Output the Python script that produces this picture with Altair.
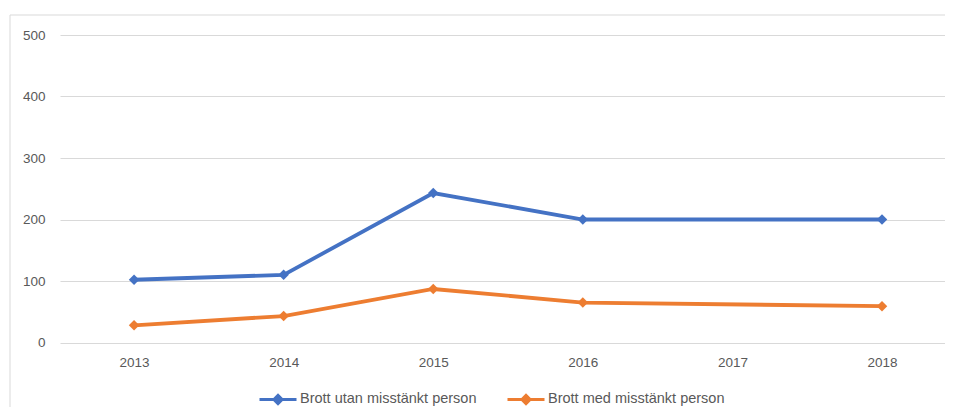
import altair as alt
import pandas as pd

years = [2013, 2014, 2015, 2016, 2017, 2018]
series_names = ["Brott utan misstänkt person", "Brott med misstänkt person"]
utan = [102, 110, 243, 200, None, 200]
med = [28, 43, 87, 65, None, 59]
colors = ["#4472C4", "#ED7D31"]

rows = []
for name, vals in zip(series_names, [utan, med]):
    for y, v in zip(years, vals):
        if v is not None:
            rows.append({"year": y, "value": v, "series": name})
df = pd.DataFrame(rows)

FONT = "Liberation Sans"
W, H = 885, 307.5

xenc = alt.X("year:Q", scale=alt.Scale(domain=[2012.505, 2018.421], nice=False, zero=False),
             axis=alt.Axis(title=None, values=years, format="d", labelAngle=0, ticks=False, domain=False,
                           grid=False, labelPadding=13, labelFontSize=13.5, labelColor="#595959",
                           labelFont=FONT))
yenc = alt.Y("value:Q", scale=alt.Scale(domain=[0, 500]),
             axis=alt.Axis(title=None, values=[0, 100, 200, 300, 400, 500], ticks=False, domain=False,
                           gridColor="#d9d9d9", gridWidth=1, labelPadding=15, labelFontSize=13.5,
                           labelColor="#595959", labelFont=FONT))
color = alt.Color("series:N", scale=alt.Scale(domain=series_names, range=colors),
                  legend=alt.Legend(title=None, orient="none", direction="horizontal",
                                    legendX=198, legendY=344,
                                    symbolType="M-1,0H1M-0.22,0L0,-0.22L0.22,0L0,0.22Z",
                                    symbolSize=1369, symbolStrokeWidth=3, columnPadding=24,
                                    labelFontSize=14.5, labelColor="#595959", labelFont=FONT,
                                    labelOffset=2, labelLimit=400))

lines = alt.Chart(df).mark_line(strokeWidth=3.8).encode(x=xenc, y=yenc, color=color)
points = alt.Chart(df).mark_point(shape="diamond", filled=True, size=110, opacity=1).encode(
    x=xenc, y=yenc, color=alt.Color("series:N", scale=alt.Scale(domain=series_names, range=colors), legend=None))

border_left = alt.Chart(pd.DataFrame({"a": [0]})).mark_rule(color="#d9d9d9", strokeWidth=1, clip=False).encode(
    x=alt.value(-50), y=alt.value(-20), y2=alt.value(H + 70))
border_top = alt.Chart(pd.DataFrame({"a": [0]})).mark_rule(color="#d9d9d9", strokeWidth=1, clip=False).encode(
    x=alt.value(-50), x2=alt.value(W + 10), y=alt.value(-20))

chart = alt.layer(border_left, border_top, lines, points).properties(
    width=W, height=H, padding={"left": 52, "top": 27, "right": 0, "bottom": 64},
    autosize=alt.AutoSizeParams(type="none")
).configure(background="white").configure_view(stroke=None)

chart.save("out.html", embed_options={"renderer": "svg", "actions": False})
